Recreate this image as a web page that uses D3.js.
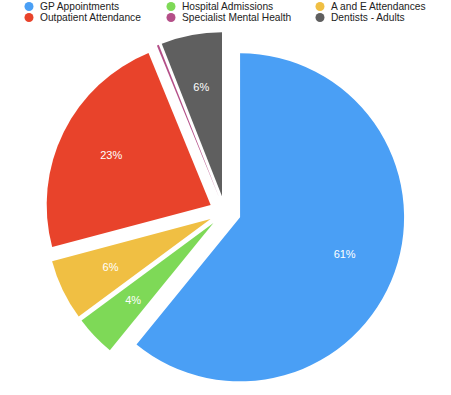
<!DOCTYPE html>
<html>
<head>
<meta charset="utf-8">
<script src="https://cdn.jsdelivr.net/npm/d3@7"></script>
<style>
html,body{margin:0;padding:0;background:#fff;}
svg{display:block;}
</style>
</head>
<body>
<svg id="chart" width="451" height="395"></svg>
<script>
const categories = ["GP Appointments","Hospital Admissions","A and E Attendances","Outpatient Attendance","Specialist Mental Health","Dentists - Adults"];
const values = [61, 4, 6, 23, 0.2, 6];
const colors = ["#4a9ff5","#7ed957","#f0bf43","#e8432b","#b44f88","#5f5f5f"];

const svg = d3.select("#chart");
const cx = 225, cy = 212, r = 164, offset = 16, labelR = 111;
const total = d3.sum(values);

const pie = d3.pie().sort(null).value(d => d);
const arcs = pie(values);
const arc = d3.arc().innerRadius(0).outerRadius(r);

const g = svg.append("g").attr("transform", `translate(${cx},${cy})`);
const slices = g.selectAll("g.slice").data(arcs).enter().append("g")
  .attr("class","slice")
  .attr("transform", d => {
    const a = (d.startAngle + d.endAngle) / 2;
    return `translate(${offset*Math.sin(a)},${-offset*Math.cos(a)})`;
  });
slices.append("path").attr("d", arc).attr("fill", (d,i) => colors[i]);
slices.append("text")
  .filter(d => Math.round(d.value/total*100) > 0)
  .attr("x", d => labelR*Math.sin((d.startAngle+d.endAngle)/2))
  .attr("y", d => -labelR*Math.cos((d.startAngle+d.endAngle)/2))
  .attr("dy", "0.35em")
  .attr("text-anchor","middle")
  .attr("fill","#fff")
  .attr("font-family","'Liberation Sans', Arial, Helvetica, sans-serif")
  .attr("font-size", 11)
  .text(d => Math.round(d.value/total*100) + "%");

// legend
const colX = d3.scaleOrdinal().domain([0,1,2]).range([29, 171, 320]);
const rowY = d3.scalePoint().domain([0,1]).range([6.5, 17.5]);
const leg = svg.selectAll("g.leg").data(categories).enter().append("g")
  .attr("class","leg")
  .attr("transform", (d,i) => `translate(${colX(i%3)},${rowY(Math.floor(i/3))})`);
leg.append("circle").attr("r", 4.5).attr("fill", (d,i) => colors[i]);
leg.append("text").attr("x", 11).attr("dy","0.35em")
  .attr("font-family","'Liberation Sans', Arial, Helvetica, sans-serif")
  .attr("font-size", 10.2).attr("fill","#222")
  .text(d => d);
</script>
</body>
</html>
